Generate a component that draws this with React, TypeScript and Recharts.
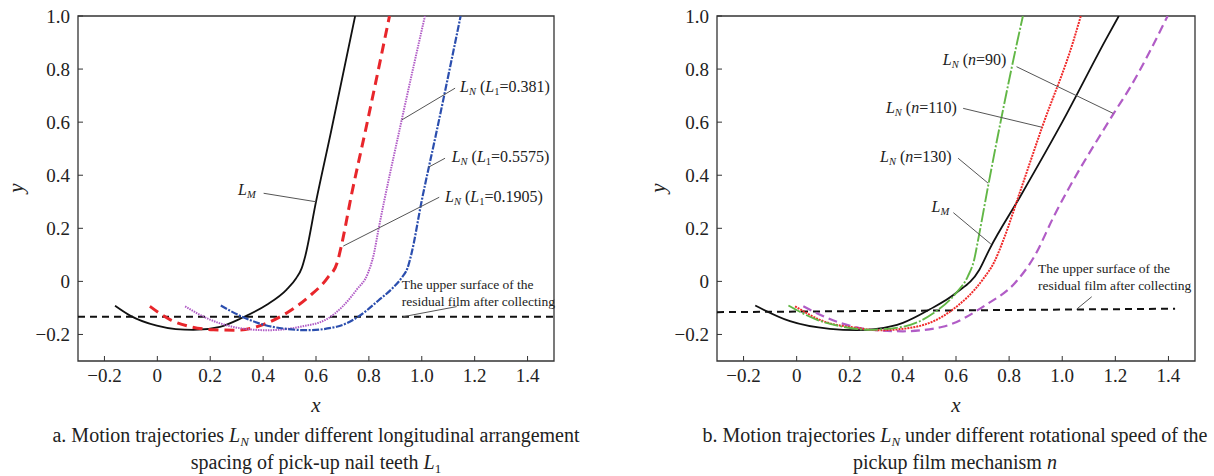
import React from 'react';
import { LineChart, Line, XAxis, YAxis, ReferenceLine, ReferenceDot, ReferenceArea } from 'recharts';

// axis ticks shared by both panels
const X_TICKS = [-0.2, 0, 0.2, 0.4, 0.6, 0.8, 1.0, 1.2, 1.4];
const Y_TICKS = [-0.2, 0, 0.2, 0.4, 0.6, 0.8, 1.0];

// panel a: L_M and L_N for different L1
const A_LM = [[-0.16, -0.092], [-0.103, -0.129], [-0.002, -0.167], [0.07, -0.18], [0.136, -0.183], [0.237, -0.171], [0.319, -0.138], [0.414, -0.088], [0.489, -0.031], [0.525, 0.012], [0.546, 0.05], [0.559, 0.094], [0.6, 0.3], [0.656, 0.56], [0.748, 1.0]];
const A_L1_01905 = [[-0.028, -0.094], [0.048, -0.144], [0.13, -0.172], [0.212, -0.182], [0.3, -0.184], [0.4, -0.163], [0.489, -0.119], [0.57, -0.06], [0.645, 0.015], [0.68, 0.07], [0.695, 0.13], [0.735, 0.33], [0.789, 0.577], [0.878, 1.0]];
const A_L1_0381 = [[0.105, -0.094], [0.199, -0.144], [0.28, -0.17], [0.35, -0.181], [0.414, -0.184], [0.54, -0.171], [0.641, -0.142], [0.7, -0.095], [0.754, -0.031], [0.796, 0.03], [0.818, 0.1], [0.836, 0.194], [0.924, 0.608], [1.012, 1.0]];
const A_L1_05575 = [[0.24, -0.091], [0.338, -0.141], [0.42, -0.168], [0.489, -0.179], [0.565, -0.184], [0.678, -0.171], [0.76, -0.133], [0.836, -0.072], [0.89, -0.025], [0.925, 0.015], [0.946, 0.05], [0.96, 0.1], [0.999, 0.3], [1.055, 0.56], [1.147, 1.0]];
const A_FILM = [[-0.3, -0.133], [1.5, -0.133]];

// panel b: L_M and L_N for different n
const B_LM = [[-0.156, -0.091], [-0.025, -0.15], [0.125, -0.179], [0.225, -0.184], [0.3, -0.179], [0.4, -0.156], [0.5, -0.106], [0.6, -0.044], [0.688, 0.044], [0.725, 0.119], [0.842, 0.32], [1.0, 0.6], [1.163, 0.909], [1.213, 1.0]];
const B_N130 = [[-0.031, -0.091], [0.075, -0.144], [0.175, -0.171], [0.275, -0.182], [0.4, -0.171], [0.513, -0.121], [0.6, -0.044], [0.645, 0.02], [0.668, 0.08], [0.684, 0.16], [0.723, 0.37], [0.83, 0.9], [0.852, 1.0]];
const B_N110 = [[-0.006, -0.094], [0.1, -0.15], [0.225, -0.175], [0.313, -0.184], [0.45, -0.171], [0.588, -0.106], [0.7, 0.006], [0.745, 0.075], [0.78, 0.16], [0.842, 0.34], [0.924, 0.58], [1.043, 0.909], [1.07, 1.0]];
const B_N90 = [[0.025, -0.094], [0.163, -0.156], [0.3, -0.184], [0.4, -0.188], [0.55, -0.171], [0.713, -0.088], [0.822, -0.006], [0.895, 0.094], [0.968, 0.244], [1.194, 0.633], [1.257, 0.733], [1.397, 1.0]];
const B_FILM = [[-0.3, -0.116], [1.425, -0.103]];

const pts = (a: number[][]) => a.map(([x, y]) => ({ x, y }));

const FONT = 'Liberation Serif, Times New Roman, serif';
const INK = '#222';

const fmt = (v: number) => (v === 0 ? '0' : v.toFixed(1).replace('-', '\u2212'));

// tick labels drawn as plain svg text so the serif font sticks
const XTick = ({ x, y, payload }: any) => (
  <text x={x} y={y} dy={13.5} textAnchor="middle" fontFamily={FONT} fontSize={19} fill={INK}>
    {fmt(payload.value)}
  </text>
);
const YTick = ({ x, y, payload }: any) => (
  <text x={x} y={y} dy={6.5} textAnchor="end" fontFamily={FONT} fontSize={19} fill={INK}>
    {fmt(payload.value)}
  </text>
);

// L_N (L1=...) / L_N (n=...) / L_M annotation text
const NoteText = ({ cx, cy, kind, val }: any) => {
  const y = cy + 5;
  if (kind === 'LM') {
    return (
      <text x={cx} y={y} fontFamily={FONT} fontSize={16} fill={INK}>
        <tspan fontStyle="italic">L</tspan>
        <tspan fontStyle="italic" fontSize={10.5} dy={3}>M</tspan>
      </text>
    );
  }
  return (
    <text x={cx} y={y} fontFamily={FONT} fontSize={16} fill={INK}>
      <tspan fontStyle="italic">L</tspan>
      <tspan fontStyle="italic" fontSize={10.5} dy={3}>N</tspan>
      <tspan dy={-3}> (</tspan>
      {kind === 'L1' ? (
        <>
          <tspan fontStyle="italic">L</tspan>
          <tspan fontSize={10.5} dy={3}>1</tspan>
          <tspan dy={-3}>={val})</tspan>
        </>
      ) : (
        <>
          <tspan fontStyle="italic">n</tspan>
          <tspan>={val})</tspan>
        </>
      )}
    </text>
  );
};

const SurfaceText = ({ cx, cy }: any) => (
  <text x={cx} y={cy} fontFamily={FONT} fontSize={13.5} fill={INK}>
    <tspan x={cx} dy={0}>The upper surface of the</tspan>
    <tspan x={cx} dy={16.5}>residual film after collecting</tspan>
  </text>
);

const leader = (a: number[], b: number[], k: string) => (
  <ReferenceLine
    key={k}
    segment={[{ x: a[0], y: a[1] }, { x: b[0], y: b[1] }]}
    stroke="#555"
    strokeWidth={1}
    ifOverflow="visible"
  />
);

const note = (x: number, y: number, shape: any, k: string) => (
  <ReferenceDot key={k} x={x} y={y} r={0} ifOverflow="visible" shape={shape} />
);

const Frame = ({ marginLeft, marginRight, children }: any) => (
  <LineChart
    width={607}
    height={420}
    margin={{ top: 16, right: marginRight, bottom: 29, left: marginLeft }}
    style={{ fontFamily: FONT }}
  >
    <XAxis
      type="number"
      dataKey="x"
      domain={[-0.3, 1.5]}
      ticks={X_TICKS}
      allowDataOverflow
      height={30}
      axisLine={false}
      tickSize={-5}
      tickMargin={12}
      tickLine={{ stroke: '#333' }}
      tick={<XTick />}
      interval={0}
    />
    <YAxis
      type="number"
      dataKey="y"
      domain={[-0.3, 1.0]}
      ticks={Y_TICKS}
      allowDataOverflow
      width={60}
      axisLine={false}
      tickSize={-5}
      tickMargin={13}
      tickLine={{ stroke: '#333' }}
      tick={<YTick />}
      interval={0}
    />
    <ReferenceArea x1={-0.3} x2={1.5} y1={-0.3} y2={1.0} fill="none" stroke="#333" strokeWidth={1.3} ifOverflow="visible" />
    {children}
  </LineChart>
);

const AxisTitles = ({ xCenter, yLeft }: any) => (
  <>
    <div style={{ position: 'absolute', left: xCenter - 20, width: 40, top: 393, textAlign: 'center', fontFamily: FONT, fontStyle: 'italic', fontSize: 21, color: INK, lineHeight: '24px' }}>x</div>
    <div style={{ position: 'absolute', left: yLeft - 12, top: 176, width: 24, height: 24, textAlign: 'center', fontFamily: FONT, fontStyle: 'italic', fontSize: 21, color: INK, lineHeight: '24px', transform: 'rotate(-90deg)' }}>y</div>
  </>
);

const Sub = ({ children, italic }: any) => (
  <span style={{ fontSize: 13, position: 'relative', top: 4, fontStyle: italic ? 'italic' : 'normal' }}>{children}</span>
);

const captionStyle: React.CSSProperties = {
  position: 'absolute', top: 423, width: 640, textAlign: 'center', whiteSpace: 'nowrap',
  fontFamily: FONT, fontSize: 20, lineHeight: '25px', color: INK,
};

export default function App() {
  return (
    <div style={{ position: 'absolute', left: 0, top: 0, width: 1214, height: 476, background: '#fff', overflow: 'hidden', fontFamily: FONT }}>
      {/* panel a */}
      <div style={{ position: 'absolute', left: 0, top: 0 }}>
        <Frame marginLeft={18} marginRight={53}>
          <Line data={pts(A_FILM)} dataKey="y" type="linear" stroke="#111" strokeWidth={2} strokeDasharray="7 5" dot={false} isAnimationActive={false} />
          <Line data={pts(A_LM)} dataKey="y" type="monotone" stroke="#111" strokeWidth={1.8} dot={false} isAnimationActive={false} />
          <Line data={pts(A_L1_01905)} dataKey="y" type="monotone" stroke="#E8262B" strokeWidth={3} strokeDasharray="10 6" dot={false} isAnimationActive={false} />
          <Line data={pts(A_L1_0381)} dataKey="y" type="monotone" stroke="#B15CC6" strokeWidth={2} strokeDasharray="1.5 1" dot={false} isAnimationActive={false} />
          <Line data={pts(A_L1_05575)} dataKey="y" type="monotone" stroke="#2B4EAE" strokeWidth={2.2} strokeDasharray="7 1.5 2 1.5" dot={false} isAnimationActive={false} />
          {leader([0.402, 0.332], [0.6, 0.3], 'a1')}
          {leader([1.126, 0.728], [0.924, 0.608], 'a2')}
          {leader([1.088, 0.464], [1.025, 0.43], 'a3')}
          {leader([1.066, 0.317], [0.703, 0.133], 'a4')}
          {leader([1.132, -0.095], [0.93, -0.133], 'a5')}
          {note(0.305, 0.344, (p: any) => <NoteText cx={p.cx} cy={p.cy} kind="LM" />, 'n1')}
          {note(1.145, 0.734, (p: any) => <NoteText cx={p.cx} cy={p.cy} kind="L1" val="0.381" />, 'n2')}
          {note(1.113, 0.47, (p: any) => <NoteText cx={p.cx} cy={p.cy} kind="L1" val="0.5575" />, 'n3')}
          {note(1.088, 0.319, (p: any) => <NoteText cx={p.cx} cy={p.cy} kind="L1" val="0.1905" />, 'n4')}
          {note(0.924, -0.01, (p: any) => <SurfaceText cx={p.cx} cy={p.cy + 5} />, 'n5')}
        </Frame>
      </div>
      {/* panel b */}
      <div style={{ position: 'absolute', left: 607, top: 0 }}>
        <Frame marginLeft={50} marginRight={19}>
          <Line data={pts(B_FILM)} dataKey="y" type="linear" stroke="#111" strokeWidth={2} strokeDasharray="7 5" dot={false} isAnimationActive={false} />
          <Line data={pts(B_LM)} dataKey="y" type="monotone" stroke="#111" strokeWidth={1.8} dot={false} isAnimationActive={false} />
          <Line data={pts(B_N90)} dataKey="y" type="monotone" stroke="#B15CC6" strokeWidth={2.2} strokeDasharray="9 5" dot={false} isAnimationActive={false} />
          <Line data={pts(B_N110)} dataKey="y" type="monotone" stroke="#F02A2A" strokeWidth={2} strokeDasharray="2 1" dot={false} isAnimationActive={false} />
          <Line data={pts(B_N130)} dataKey="y" type="monotone" stroke="#62B746" strokeWidth={1.9} strokeDasharray="14 2 2 2" dot={false} isAnimationActive={false} />
          {leader([0.828, 0.809], [1.192, 0.633], 'b1')}
          {leader([0.627, 0.652], [0.923, 0.581], 'b2')}
          {leader([0.608, 0.464], [0.721, 0.37], 'b3')}
          {leader([0.59, 0.259], [0.731, 0.141], 'b4')}
          {leader([1.111, -0.058], [1.054, -0.105], 'b5')}
          {note(0.55, 0.834, (p: any) => <NoteText cx={p.cx} cy={p.cy} kind="n" val="90" />, 'm1')}
          {note(0.336, 0.652, (p: any) => <NoteText cx={p.cx} cy={p.cy} kind="n" val="110" />, 'm2')}
          {note(0.314, 0.47, (p: any) => <NoteText cx={p.cx} cy={p.cy} kind="n" val="130" />, 'm3')}
          {note(0.508, 0.281, (p: any) => <NoteText cx={p.cx} cy={p.cy} kind="LM" />, 'm4')}
          {note(0.909, 0.05, (p: any) => <SurfaceText cx={p.cx} cy={p.cy + 5} />, 'm5')}
        </Frame>
      </div>
      <AxisTitles xCenter={316} yLeft={16} />
      <AxisTitles xCenter={956} yLeft={658} />
      <div style={{ ...captionStyle, left: 316 - 320 }}>
        a. Motion trajectories <i>L</i><Sub italic>N</Sub> under different longitudinal arrangement<br />
        spacing of pick-up nail teeth <i>L</i><Sub>1</Sub>
      </div>
      <div style={{ ...captionStyle, left: 955 - 320 }}>
        b. Motion trajectories <i>L</i><Sub italic>N</Sub> under different rotational speed of the<br />
        pickup film mechanism <i>n</i>
      </div>
    </div>
  );
}
